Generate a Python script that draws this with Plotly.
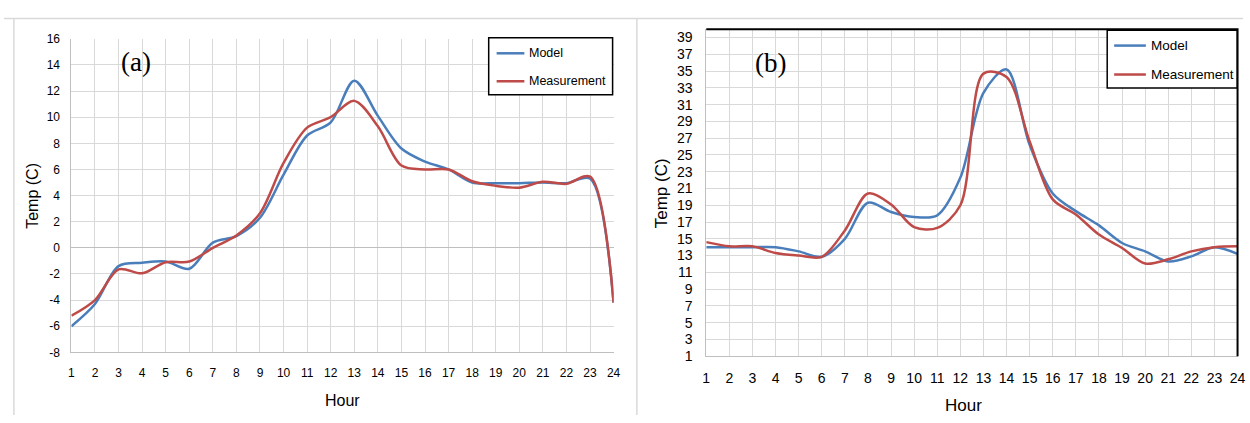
import plotly.graph_objects as go

# Hourly temperatures, day (a)
hours = list(range(1, 25))
model_a = [-6.0, -4.3, -1.4, -1.15, -1.05, -1.6, 0.4, 0.9, 2.3, 5.6, 8.6, 9.6,
           12.8, 10.1, 7.6, 6.6, 6.0, 5.0, 4.95, 4.95, 5.0, 4.95, 5.3, -4.2]
meas_a = [-5.2, -4.0, -1.65, -1.95, -1.1, -1.05, 0.0, 0.95, 2.65, 6.5, 9.2, 10.0,
          11.25, 9.3, 6.3, 6.0, 6.0, 5.1, 4.75, 4.6, 5.05, 4.9, 5.45, -4.2]

# Hourly temperatures, day (b)
model_b = [14.0, 14.0, 14.0, 14.0, 13.5, 12.85, 15.0, 19.3, 18.2, 17.6, 17.8, 22.3,
           32.4, 35.2, 26.2, 20.4, 18.3, 16.6, 14.5, 13.5, 12.3, 12.9, 14.0, 13.2]
meas_b = [14.6, 14.1, 14.1, 13.3, 13.0, 12.85, 16.0, 20.4, 19.1, 16.4, 16.3, 19.0,
          34.7, 34.3, 26.6, 19.7, 17.9, 15.5, 13.9, 12.05, 12.55, 13.5, 14.0, 14.1]

yticks_a = list(range(-8, 17, 2))
ylabels_a = [str(v) for v in yticks_a]
yticks_b = list(range(1, 40, 2))
ylabels_b = [str(v) for v in yticks_b]

BLUE = "#4a7ebb"
RED = "#be4b48"
GRID = "#d9d9d9"
FONT = "Liberation Sans, Arial, sans-serif"
W, H = 1250, 423


def px(x):
    return x / W


def py(y):
    return 1 - y / H


fig = go.Figure()
line_kw = dict(shape="spline", smoothing=0.9, width=2.5)
fig.add_trace(go.Scatter(x=hours, y=model_a, name="Model", mode="lines",
                         line=dict(color=BLUE, **line_kw), xaxis="x", yaxis="y",
                         showlegend=False))
fig.add_trace(go.Scatter(x=hours, y=meas_a, name="Measurement", mode="lines",
                         line=dict(color=RED, **line_kw), xaxis="x", yaxis="y",
                         showlegend=False))
fig.add_trace(go.Scatter(x=hours, y=model_b, name="Model", mode="lines",
                         line=dict(color=BLUE, **line_kw), xaxis="x2", yaxis="y2",
                         showlegend=False))
fig.add_trace(go.Scatter(x=hours, y=meas_b, name="Measurement", mode="lines",
                         line=dict(color=RED, **line_kw), xaxis="x2", yaxis="y2",
                         showlegend=False))

tick_a = dict(family=FONT, size=12, color="#000000")
tick_b = dict(family=FONT, size=14, color="#000000")

fig.update_layout(
    width=W, height=H,
    margin=dict(l=0, r=0, t=0, b=0),
    paper_bgcolor="white", plot_bgcolor="white",
    xaxis=dict(domain=[px(68), px(615)], range=[1, 24], tickvals=hours,
               showgrid=True, gridcolor=GRID, gridwidth=1,
               showline=True, linecolor="#bfbfbf", linewidth=1,
               ticks="outside", ticklen=9, tickcolor="rgba(0,0,0,0)",
               tickfont=tick_a, zeroline=False, anchor="y"),
    yaxis=dict(domain=[py(358), py(33)], range=[-8, 16],
               tickvals=yticks_a, ticktext=ylabels_a,
               showgrid=True, gridcolor=GRID, gridwidth=1,
               showline=True, linecolor="#bfbfbf", linewidth=1,
               zeroline=True, zerolinecolor="#bfbfbf", zerolinewidth=1,
               ticks="outside", ticklen=8, tickcolor="rgba(0,0,0,0)",
               tickfont=tick_a, anchor="x"),
    xaxis2=dict(domain=[px(708.5), px(1244.5)], range=[1, 24], tickvals=hours,
                showgrid=True, gridcolor=GRID, gridwidth=1,
                showline=True, linecolor="#bfbfbf", linewidth=1,
                ticks="outside", ticklen=9, tickcolor="rgba(0,0,0,0)",
                tickfont=tick_b, zeroline=False, anchor="y2"),
    yaxis2=dict(domain=[py(362), py(23)], range=[1, 40],
                tickvals=yticks_b, ticktext=ylabels_b,
                showgrid=True, gridcolor=GRID, gridwidth=1,
                showline=True, linecolor="#bfbfbf", linewidth=1,
                ticks="outside", ticklen=10, tickcolor="rgba(0,0,0,0)",
                tickfont=tick_b, zeroline=False, anchor="x2"),
)

shapes = []
# panel frames
shapes.append(dict(type="line", xref="paper", yref="paper", x0=0, x1=1,
                   y0=py(12), y1=py(12), line=dict(color=GRID, width=1.5)))
shapes.append(dict(type="line", xref="paper", yref="paper", x0=px(10), x1=px(10),
                   y0=0, y1=py(12), line=dict(color=GRID, width=1.5)))
shapes.append(dict(type="line", xref="paper", yref="paper", x0=px(638.5), x1=px(638.5),
                   y0=0, y1=py(12), line=dict(color=GRID, width=1.5)))
# dark top/right border of panel (b)
shapes.append(dict(type="path", xref="x2 domain", yref="y2 domain",
                   path="M 0 1 L 1 1 L 1 0", line=dict(color="#000000", width=2)))

annotations = []


def legend_box(x0, x1, y0, y1, ya, yb, lx0, lx1, tx, size):
    shapes.append(dict(type="rect", xref="paper", yref="paper",
                       x0=px(x0), x1=px(x1), y0=py(y1), y1=py(y0),
                       line=dict(color="#000000", width=1.5), fillcolor="white"))
    for yy, col, label in ((ya, BLUE, "Model"), (yb, RED, "Measurement")):
        shapes.append(dict(type="line", xref="paper", yref="paper",
                           x0=px(lx0), x1=px(lx1), y0=py(yy), y1=py(yy),
                           line=dict(color=col, width=2.5)))
        annotations.append(dict(text=label, xref="paper", yref="paper",
                                x=px(tx), y=py(yy), xanchor="left", yanchor="middle",
                                showarrow=False,
                                font=dict(family=FONT, size=size, color="#000000")))


legend_box(489, 614, 32, 91, 48, 77, 497, 525, 528, 12.5)
legend_box(1113, 1244, 24, 84, 40, 70, 1120, 1152, 1155, 13.5)

# panel letters
for label, x, y in (("(a)", 133, 57), ("(b)", 773, 58)):
    annotations.append(dict(text=label, xref="paper", yref="paper", x=px(x), y=py(y),
                            xanchor="center", yanchor="middle", showarrow=False,
                            font=dict(family="Liberation Serif, Times New Roman, serif",
                                      size=27, color="#000000")))

# axis titles
for x, y, size in ((342, 408, 16), (968, 413, 17)):
    annotations.append(dict(text="Hour", xref="paper", yref="paper", x=px(x), y=py(y),
                            xanchor="center", yanchor="middle", showarrow=False,
                            font=dict(family=FONT, size=size, color="#000000")))
for x, y, size in ((28, 196, 16), (663, 193, 17)):
    annotations.append(dict(text="Temp (C)", xref="paper", yref="paper", x=px(x), y=py(y),
                            xanchor="center", yanchor="middle", textangle=-90,
                            showarrow=False,
                            font=dict(family=FONT, size=size, color="#000000")))

fig.update_layout(shapes=shapes, annotations=annotations)
fig.write_html("out.html")
